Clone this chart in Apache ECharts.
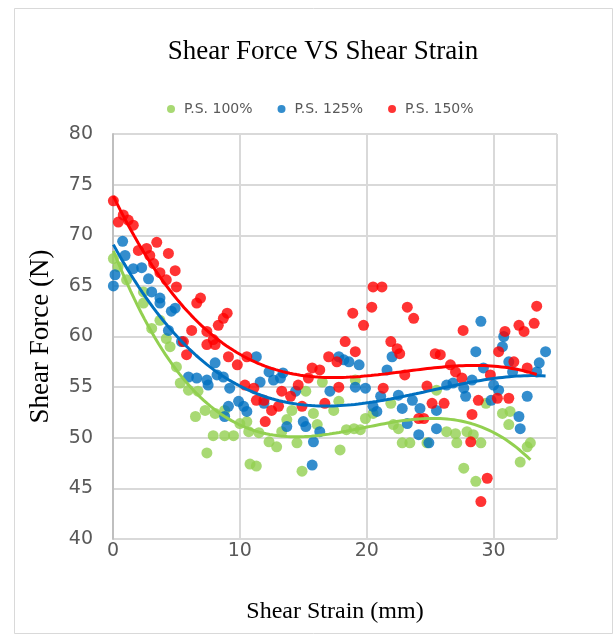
<!DOCTYPE html>
<html>
<head>
<meta charset="utf-8">
<script src="https://cdn.jsdelivr.net/npm/echarts@6/dist/echarts.min.js"></script>
<style>
  html, body { margin: 0; padding: 0; background: #fff; }
  #chart { width: 614px; height: 639px; }
</style>
</head>
<body>
<div id="chart"></div>
<script>
  // [shear strain (mm), shear force (N)]
  let ps100 = [
    [0.03, 67.7], [0.4, 66.9], [1.07, 65.6], [2.4, 64.4], [2.4, 63.3], [3.05, 60.8], [3.7, 61.6],
    [4.2, 59.8], [4.5, 59.0], [5.0, 57.0], [5.3, 55.4], [5.95, 54.7], [6.7, 54.6], [6.5, 52.1],
    [7.26, 52.7], [8.05, 52.4], [7.9, 50.2], [8.8, 50.2], [7.4, 48.5], [8.8, 52.7], [9.5, 50.2],
    [10.0, 51.4], [10.55, 51.6], [10.7, 50.6], [11.5, 50.5], [10.8, 47.4], [11.3, 47.2], [12.3, 49.6],
    [12.9, 49.1], [13.3, 50.6], [13.7, 51.8], [14.1, 52.7], [14.5, 49.5], [14.9, 46.7], [15.2, 54.6],
    [15.8, 52.4], [16.1, 51.3], [16.5, 55.5], [17.4, 52.7], [17.8, 53.6], [17.9, 48.8], [18.4, 50.8],
    [19.0, 50.9], [19.5, 50.8], [19.1, 55.7], [19.9, 51.9], [20.5, 52.4], [21.9, 53.4], [22.1, 51.3],
    [22.5, 50.9], [22.8, 49.5], [23.4, 49.5], [24.75, 49.5], [25.5, 54.7], [26.3, 50.6], [27.0, 50.4],
    [27.1, 49.5], [27.65, 47.0], [28.6, 45.7], [27.9, 50.6], [28.4, 50.3], [29.0, 49.5], [29.4, 53.4],
    [30.7, 52.4], [31.3, 52.6], [31.2, 51.3], [32.1, 47.6], [32.65, 49.1], [32.9, 49.5]
  ];
  let ps125 = [
    [0.03, 65.0], [0.16, 66.1], [0.76, 69.4], [0.95, 68.0], [1.6, 66.7], [2.26, 66.8], [2.8, 65.7],
    [3.05, 64.4], [3.7, 63.8], [4.9, 62.8], [3.7, 63.3], [4.6, 62.5], [4.37, 60.6], [5.4, 59.5],
    [5.95, 56.0], [6.6, 55.9], [7.4, 55.7], [8.05, 57.4], [8.2, 56.2], [7.5, 55.2], [8.7, 56.0],
    [9.2, 54.9], [9.1, 53.1], [8.8, 52.1], [9.9, 53.6], [10.3, 53.1], [10.55, 52.6], [11.3, 58.0],
    [11.6, 55.5], [12.3, 56.5], [12.65, 55.7], [13.2, 55.9], [13.4, 56.4], [11.9, 53.4], [13.7, 51.1],
    [15.0, 51.6], [15.2, 51.1], [14.4, 54.6], [15.8, 49.6], [15.7, 47.3], [16.3, 50.6], [17.1, 54.6],
    [17.8, 58.0], [18.2, 57.7], [18.6, 57.5], [19.4, 57.2], [19.1, 55.0], [19.9, 54.9], [21.6, 56.7],
    [22.0, 58.0], [21.1, 54.1], [22.5, 54.2], [20.5, 53.1], [20.8, 52.6], [22.8, 52.9], [23.6, 53.7],
    [23.2, 51.4], [24.2, 52.9], [24.1, 50.3], [24.9, 49.5], [25.5, 50.9], [25.5, 52.7], [26.3, 55.2],
    [26.8, 55.4], [27.65, 54.9], [27.8, 54.1], [28.3, 55.7], [28.6, 58.5], [29.0, 61.5], [29.2, 56.9],
    [29.8, 53.7], [30.0, 55.2], [30.4, 54.7], [30.7, 59.0], [30.8, 60.0], [31.2, 57.5], [31.5, 56.5],
    [32.0, 52.1], [32.1, 50.9], [32.65, 54.1], [33.4, 56.5], [33.6, 57.4], [34.1, 58.5]
  ];
  let ps150 = [
    [0.03, 73.4], [0.42, 71.3], [0.81, 72.0], [1.2, 71.5], [1.6, 71.0], [2.0, 68.5], [2.65, 68.7],
    [2.9, 68.0], [3.45, 69.3], [3.2, 67.2], [3.7, 66.3], [4.37, 68.2], [4.9, 66.5], [4.2, 65.6],
    [5.0, 64.9], [6.9, 63.8], [6.6, 63.3], [6.2, 60.6], [7.4, 60.5], [8.3, 61.1], [8.7, 61.8],
    [9.0, 62.3], [5.55, 59.5], [5.8, 58.2], [7.4, 59.2], [7.9, 59.7], [8.05, 59.2], [9.1, 58.0],
    [9.8, 57.2], [10.55, 58.0], [10.4, 55.2], [11.1, 54.9], [11.3, 53.7], [11.9, 53.7], [12.0, 51.6],
    [12.5, 52.7], [13.3, 54.6], [13.05, 53.1], [14.0, 54.1], [14.9, 53.1], [14.6, 55.2], [15.4, 55.9],
    [15.7, 56.9], [16.3, 56.7], [17.0, 58.0], [17.65, 57.5], [17.8, 55.0], [16.7, 53.4], [18.3, 59.5],
    [18.9, 62.3], [19.75, 61.1], [20.4, 62.9], [20.5, 64.9], [21.2, 64.9], [23.2, 62.9], [23.7, 61.8],
    [19.1, 58.5], [21.9, 59.5], [22.4, 58.8], [22.6, 58.3], [25.4, 58.3], [25.8, 58.2], [26.6, 57.2],
    [27.0, 56.5], [27.5, 55.9], [27.6, 60.6], [23.0, 56.2], [21.3, 54.9], [24.75, 55.1], [25.15, 53.4],
    [26.1, 53.4], [24.1, 51.9], [24.5, 51.9], [28.2, 49.6], [28.3, 52.3], [28.8, 53.7], [29.75, 56.2],
    [30.3, 53.9], [31.2, 53.9], [30.4, 58.5], [30.9, 60.5], [31.6, 57.5], [32.0, 61.1], [32.4, 60.5],
    [33.2, 61.3], [33.4, 63.0], [32.65, 56.9], [29.5, 46.0], [29.0, 43.7]
  ];
  let seriesNames = ['P.S. 100%', 'P.S. 125%', 'P.S. 150%'];
  let seriesColors = ['#92d050', '#0070c0', '#ff0000'];
  let yTicks = [40, 45, 50, 55, 60, 65, 70, 75, 80];
  let xTicks = [0, 10, 20, 30];

  // least squares polynomial trendline, like the Excel one
  function polyFit(pts, deg) {
    let n = deg + 1;
    let A = [];
    for (let i = 0; i < n; i++) A.push(new Array(n + 1).fill(0));
    pts.forEach(p => {
      for (let i = 0; i < n; i++) {
        for (let j = 0; j < n; j++) A[i][j] += Math.pow(p[0], i + j);
        A[i][n] += Math.pow(p[0], i) * p[1];
      }
    });
    for (let i = 0; i < n; i++) {
      let piv = i;
      for (let k = i + 1; k < n; k++) if (Math.abs(A[k][i]) > Math.abs(A[piv][i])) piv = k;
      let t = A[i]; A[i] = A[piv]; A[piv] = t;
      for (let k = i + 1; k < n; k++) {
        let f = A[k][i] / A[i][i];
        for (let j = i; j <= n; j++) A[k][j] -= f * A[i][j];
      }
    }
    let c = new Array(n).fill(0);
    for (let i = n - 1; i >= 0; i--) {
      let s = A[i][n];
      for (let j = i + 1; j < n; j++) s -= A[i][j] * c[j];
      c[i] = s / A[i][i];
    }
    return c;
  }
  function trend(pts, deg) {
    let c = polyFit(pts, deg);
    let xs = pts.map(p => p[0]);
    let lo = Math.min.apply(null, xs), hi = Math.max.apply(null, xs);
    let out = [];
    for (let k = 0; k <= 120; k++) {
      let x = lo + (hi - lo) * k / 120;
      let y = 0;
      for (let i = c.length - 1; i >= 0; i--) y = y * x + c[i];
      out.push([x, y]);
    }
    return out;
  }

  let allData = [ps100, ps125, ps150];
  let chart = echarts.init(document.getElementById('chart'));
  let series = [];
  allData.forEach((d, i) => {
    series.push({
      name: seriesNames[i],
      type: 'scatter',
      data: d,
      symbol: 'circle',
      symbolSize: 11,
      itemStyle: { color: seriesColors[i] },
      z: 2 + i
    });
  });
  allData.forEach((d, i) => {
    series.push({
      name: seriesNames[i] + ' trend',
      type: 'line',
      data: trend(d, 3),
      showSymbol: false,
      symbol: 'none',
      lineStyle: { color: seriesColors[i], width: 3 },
      z: 6,
      silent: true
    });
  });

  chart.setOption({
    animation: false,
    backgroundColor: '#fff',
    graphic: [{
      type: 'rect',
      shape: { x: 14.5, y: 8.5, width: 598, height: 625 },
      style: { fill: 'none', stroke: '#d9d9d9', lineWidth: 1 },
      silent: true
    }],
    title: {
      text: 'Shear Force VS Shear Strain',
      left: 318,
      top: 33,
      textAlign: 'center',
      textStyle: {
        fontFamily: 'Liberation Serif',
        fontSize: 27,
        fontWeight: 'normal',
        color: '#000'
      }
    },
    legend: {
      data: seriesNames.map((n, i) => ({ name: n, icon: 'circle', itemStyle: { color: seriesColors[i] } })),
      left: 162,
      top: 97,
      itemWidth: 8,
      itemHeight: 8,
      itemGap: 25,
      textStyle: { fontFamily: 'DejaVu Sans', fontSize: 14, color: '#595959', padding: [0, 0, 0, 4] }
    },
    grid: { left: 113, top: 134, width: 444, height: 405, containLabel: false },
    xAxis: {
      type: 'value',
      min: 0,
      max: 35,
      interval: 10,
      name: 'Shear Strain (mm)',
      nameLocation: 'middle',
      nameGap: 61,
      nameTextStyle: { fontFamily: 'Liberation Serif', fontSize: 24, color: '#000' },
      axisLine: { show: false },
      axisTick: { show: false },
      axisLabel: {
        margin: 3,
        fontFamily: 'DejaVu Sans',
        fontSize: 19,
        color: '#595959',
        formatter: v => (xTicks.indexOf(v) >= 0 ? String(v) : '')
      },
      splitLine: { show: true, lineStyle: { color: '#d9d9d9', width: 2 } }
    },
    yAxis: {
      type: 'value',
      min: 40,
      max: 80,
      interval: 5,
      name: 'Shear Force (N)',
      nameLocation: 'middle',
      nameGap: 59,
      nameTextStyle: { fontFamily: 'Liberation Serif', fontSize: 27, color: '#000' },
      axisLine: { show: true, lineStyle: { color: '#bfbfbf', width: 2 } },
      axisTick: { show: false },
      axisLabel: {
        margin: 20,
        fontFamily: 'DejaVu Sans',
        fontSize: 19,
        color: '#595959',
        formatter: v => (yTicks.indexOf(v) >= 0 ? String(v) : '')
      },
      splitLine: { show: true, lineStyle: { color: '#d9d9d9', width: 2 } }
    },
    series: series
  });
</script>
</body>
</html>
